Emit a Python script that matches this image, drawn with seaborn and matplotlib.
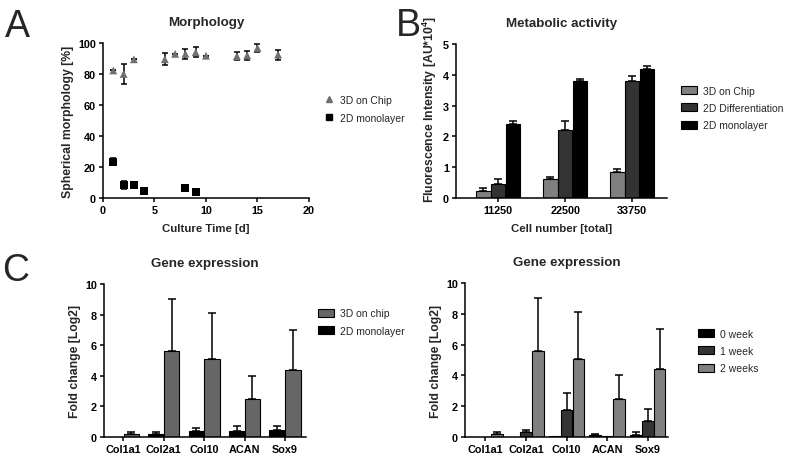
import matplotlib
matplotlib.use('Agg')
import matplotlib.pyplot as plt
import seaborn as sns
import pandas as pd
import numpy as np
from matplotlib.patches import Patch
from matplotlib.lines import Line2D

# ---------------- data ----------------
# Panel A: Morphology
a_days_3d = [1, 2, 3, 6, 7, 8, 9, 10, 13, 14, 15, 17]
a_vals_3d = [82.3, 80.0, 89.5, 89.5, 93.0, 93.0, 94.0, 91.8, 91.5, 92.0, 96.8, 92.5]
a_err_3d = [0, 6.5, 0, 3.8, 0, 3.2, 3.3, 0, 2.5, 3.0, 2.5, 3.3]
a_days_2d = [1, 2, 3, 4, 8, 9]
a_vals_2d = [23.5, 8.5, 8.6, 4.5, 6.2, 3.9]
a_err_2d = [2.5, 2.5, 0.8, 0.8, 0.5, 0.5]

# Panel B: Metabolic activity
b_cells = ['11250', '22500', '33750']
b_series = ['3D on Chip', '2D Differentiation', '2D monolayer']
b_3d = [0.24, 0.63, 0.84]
b_3d_err = [0.07, 0.06, 0.10]
b_2dd = [0.46, 2.20, 3.80]
b_2dd_err = [0.17, 0.30, 0.16]
b_2dm = [2.41, 3.79, 4.20]
b_2dm_err = [0.09, 0.07, 0.07]

# Panel C: Gene expression
genes = ['Col1a1', 'Col2a1', 'Col10', 'ACAN', 'Sox9']
c1_3d = [0.17, 5.60, 5.07, 2.48, 4.38]
c1_3d_err = [0.16, 3.40, 3.03, 1.52, 2.62]
c1_2d = [0.0, 0.20, 0.37, 0.42, 0.47]
c1_2d_err = [0.0, 0.10, 0.23, 0.33, 0.28]

c2_w0 = [0.0, 0.02, 0.05, 0.12, 0.15]
c2_w0_err = [0.0, 0.0, 0.0, 0.08, 0.15]
c2_w1 = [0.02, 0.35, 1.75, 0.07, 1.02]
c2_w1_err = [0.0, 0.12, 1.10, 0.0, 0.83]
c2_w2 = [0.20, 5.60, 5.05, 2.45, 4.40]
c2_w2_err = [0.13, 3.40, 3.05, 1.55, 2.60]

# ---------------- style ----------------
sns.set_theme(style='ticks')
plt.rcParams['font.family'] = ['Liberation Sans', 'DejaVu Sans']
plt.rcParams['mathtext.fontset'] = 'custom'
plt.rcParams['mathtext.rm'] = 'Liberation Sans'
plt.rcParams['mathtext.bf'] = 'Liberation Sans:bold'
plt.rcParams['axes.linewidth'] = 1.1
plt.rcParams['xtick.major.width'] = 1.1
plt.rcParams['ytick.major.width'] = 1.1
plt.rcParams['xtick.major.size'] = 3
plt.rcParams['ytick.major.size'] = 3

W, H = 789, 456
fig = plt.figure(figsize=(W / 100, H / 100), dpi=100)


def px_axes(l, t, r, b):
    return fig.add_axes([l / W, 1 - b / H, (r - l) / W, (b - t) / H])


TICK_FS = 7.8
XLAB_FS = 8.2
YLAB_FS = 8.8
TITLE_FS = 9.6
LEG_FS = 7.5


def style_axes(ax):
    sns.despine(ax=ax)
    for s in ['left', 'bottom']:
        ax.spines[s].set_color('black')
    ax.tick_params(axis='both', colors='black', labelsize=TICK_FS, pad=2)
    for lab in ax.get_xticklabels() + ax.get_yticklabels():
        lab.set_fontweight('bold')


def add_bar_errors(ax, errs, capsize=3):
    for cont, err in zip(ax.containers, errs):
        for rect, e in zip(cont, err):
            if e <= 0:
                continue
            x = rect.get_x() + rect.get_width() / 2
            h = rect.get_height()
            ax.errorbar(x, h, yerr=[[0], [e]], fmt='none', ecolor='black',
                        elinewidth=1.1, capsize=capsize, capthick=1.1, zorder=1)


# ---------------- Panel A ----------------
axA = px_axes(103, 44, 309, 199)
dfA = pd.DataFrame({
    'day': a_days_3d + a_days_2d,
    'val': a_vals_3d + a_vals_2d,
    'err': a_err_3d + a_err_2d,
    'group': ['3D on Chip'] * len(a_days_3d) + ['2D monolayer'] * len(a_days_2d),
})
axA.errorbar(a_days_3d, a_vals_3d, yerr=a_err_3d, fmt='none', ecolor='black',
             elinewidth=1.1, capsize=2.5, capthick=1.1, zorder=1)
axA.errorbar(a_days_2d, a_vals_2d, yerr=a_err_2d, fmt='none', ecolor='black',
             elinewidth=1.1, capsize=2.5, capthick=1.1, zorder=1)
sns.scatterplot(data=dfA, x='day', y='val', hue='group', style='group',
                markers={'3D on Chip': '^', '2D monolayer': 's'},
                palette={'3D on Chip': '#707070', '2D monolayer': '#000000'},
                s=32, linewidth=0, legend=False, ax=axA, zorder=2)
axA.set_xlim(0, 20)
axA.set_ylim(0, 100)
axA.set_xticks([0, 5, 10, 15, 20])
axA.set_yticks([0, 20, 40, 60, 80, 100])
axA.set_xlabel('Culture Time [d]', fontsize=XLAB_FS, fontweight='bold', labelpad=6)
axA.set_ylabel('Spherical morphology [%]', fontsize=YLAB_FS, fontweight='bold', labelpad=3)
axA.set_title('Morphology', fontsize=TITLE_FS, fontweight='bold', pad=13)
style_axes(axA)
hA = [Line2D([], [], marker='^', color='#707070', linestyle='none', markersize=5),
      Line2D([], [], marker='s', color='#000000', linestyle='none', markersize=4.5)]
fig.legend(hA, ['3D on Chip', '2D monolayer'], loc='center left',
           bbox_to_anchor=(324 / W, 1 - 110 / H), frameon=False, fontsize=LEG_FS,
           handlelength=1.0, handletextpad=0.5, borderpad=0, borderaxespad=0,
           labelspacing=0.75)

# ---------------- Panel B ----------------
axB = px_axes(456, 45, 667, 199)
dfB = pd.DataFrame({
    'cells': b_cells * 3,
    'val': b_3d + b_2dd + b_2dm,
    'series': [b_series[0]] * 3 + [b_series[1]] * 3 + [b_series[2]] * 3,
})
b_colors = ['#808080', '#333333', '#000000']
sns.barplot(data=dfB, x='cells', y='val', hue='series', hue_order=b_series,
            palette=b_colors, errorbar=None, width=0.66, gap=0.03,
            edgecolor='black', linewidth=0.8, saturation=1, legend=False, ax=axB)
add_bar_errors(axB, [b_3d_err, b_2dd_err, b_2dm_err], capsize=3)
axB.set_xlim(-0.63, 2.52)
axB.set_ylim(0, 5)
axB.set_yticks([0, 1, 2, 3, 4, 5])
axB.set_xlabel('Cell number [total]', fontsize=XLAB_FS, fontweight='bold', labelpad=6)
axB.set_ylabel(r'Fluorescence Intensity [AU*10$^{\mathbf{4}}$]', fontsize=YLAB_FS,
               fontweight='bold', labelpad=3)
axB.yaxis.label.set_y(0.58)
axB.set_title('Metabolic activity', fontsize=TITLE_FS, fontweight='bold', pad=13)
style_axes(axB)
hB = [Patch(facecolor=c, edgecolor='black', linewidth=0.8) for c in b_colors]
fig.legend(hB, b_series, loc='center left',
           bbox_to_anchor=(681 / W, 1 - 109 / H), frameon=False, fontsize=LEG_FS,
           handlelength=1.5, handleheight=0.8, handletextpad=0.6, borderpad=0,
           borderaxespad=0, labelspacing=0.7)

# ---------------- Panel C left ----------------
axC1 = px_axes(104, 285, 306, 438)
dfC1 = pd.DataFrame({
    'gene': genes * 2,
    'val': c1_2d + c1_3d,
    'series': ['2D monolayer'] * 5 + ['3D on chip'] * 5,
})
sns.barplot(data=dfC1, x='gene', y='val', hue='series',
            hue_order=['2D monolayer', '3D on chip'],
            palette=['#000000', '#666666'], errorbar=None, width=0.78, gap=0.02,
            edgecolor='black', linewidth=0.8, saturation=1, legend=False, ax=axC1)
add_bar_errors(axC1, [c1_2d_err, c1_3d_err], capsize=3)
axC1.set_xlim(-0.48, 4.52)
axC1.set_ylim(0, 10)
axC1.set_yticks([0, 2, 4, 6, 8, 10])
axC1.set_xlabel('')
axC1.set_ylabel('Fold change [Log2]', fontsize=YLAB_FS, fontweight='bold', labelpad=3)
axC1.set_title('Gene expression', fontsize=TITLE_FS, fontweight='bold', pad=13)
style_axes(axC1)
hC1 = [Patch(facecolor='#666666', edgecolor='black', linewidth=0.8),
       Patch(facecolor='#000000', edgecolor='black', linewidth=0.8)]
fig.legend(hC1, ['3D on chip', '2D monolayer'], loc='center left',
           bbox_to_anchor=(318 / W, 1 - 323 / H), frameon=False, fontsize=LEG_FS,
           handlelength=1.5, handleheight=0.8, handletextpad=0.6, borderpad=0,
           borderaxespad=0, labelspacing=0.7)

# ---------------- Panel C right ----------------
axC2 = px_axes(465, 284, 668, 438)
w_series = ['0 week', '1 week', '2 weeks']
dfC2 = pd.DataFrame({
    'gene': genes * 3,
    'val': c2_w0 + c2_w1 + c2_w2,
    'series': [w_series[0]] * 5 + [w_series[1]] * 5 + [w_series[2]] * 5,
})
w_colors = ['#000000', '#333333', '#808080']
sns.barplot(data=dfC2, x='gene', y='val', hue='series', hue_order=w_series,
            palette=w_colors, errorbar=None, width=0.88, gap=0.02,
            edgecolor='black', linewidth=0.8, saturation=1, legend=False, ax=axC2)
add_bar_errors(axC2, [c2_w0_err, c2_w1_err, c2_w2_err], capsize=3)
axC2.set_xlim(-0.5, 4.5)
axC2.set_ylim(0, 10)
axC2.set_yticks([0, 2, 4, 6, 8, 10])
axC2.set_xlabel('')
axC2.set_ylabel('Fold change [Log2]', fontsize=YLAB_FS, fontweight='bold', labelpad=3)
axC2.set_title('Gene expression', fontsize=TITLE_FS, fontweight='bold', pad=13)
style_axes(axC2)
hC2 = [Patch(facecolor=c, edgecolor='black', linewidth=0.8) for c in w_colors]
fig.legend(hC2, w_series, loc='center left',
           bbox_to_anchor=(698 / W, 1 - 352 / H), frameon=False, fontsize=LEG_FS,
           handlelength=1.5, handleheight=0.8, handletextpad=0.6, borderpad=0,
           borderaxespad=0, labelspacing=0.7)

# ---------------- panel letters ----------------
fig.text(5 / W, 1 - 37 / H, 'A', fontsize=27, va='baseline', ha='left')
fig.text(396 / W, 1 - 36 / H, 'B', fontsize=27, va='baseline', ha='left')
fig.text(2 / W, 1 - 281 / H, 'C', fontsize=27, va='baseline', ha='left')

fig.savefig('out.png', dpi=100)
